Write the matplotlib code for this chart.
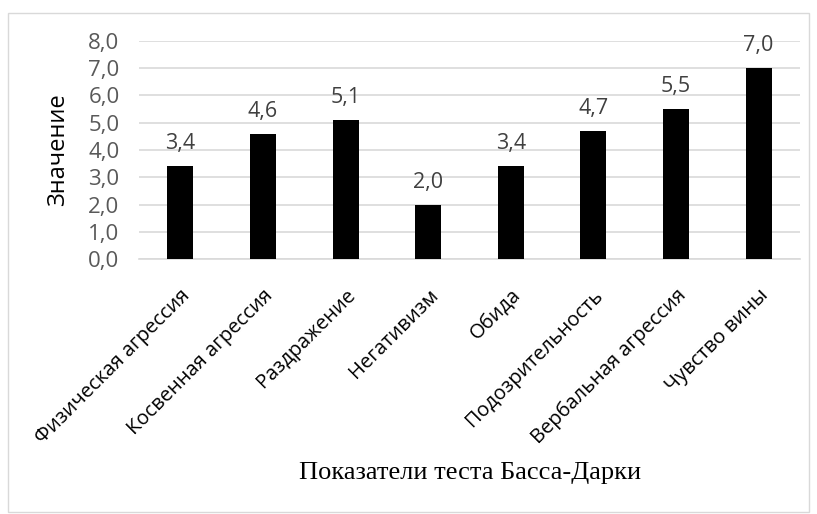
import matplotlib.pyplot as plt
from matplotlib.patches import Rectangle

categories = ["Физическая агрессия", "Косвенная агрессия", "Раздражение", "Негативизм",
              "Обида", "Подозрительность", "Вербальная агрессия", "Чувство вины"]
values = [3.4, 4.6, 5.1, 2.0, 3.4, 4.7, 5.5, 7.0]
yticks = [0, 1, 2, 3, 4, 5, 6, 7, 8]

plt.rcParams['font.family'] = ['Open Sans', 'DejaVu Sans']

fig = plt.figure(figsize=(8.17, 5.14), dpi=100)
ax = fig.add_axes([139 / 817, 1 - 259 / 514, (800 - 139) / 817, (259 - 41) / 514])

x = range(len(categories))
bars = ax.bar(x, values, width=0.315, color='black', zorder=3)

for xi, v in zip(x, values):
    ax.text(xi, v + 0.62, f"{v:.1f}".replace('.', ','), ha='center', va='baseline',
            fontsize=15.5, color='#404040')

ax.set_xlim(-0.5, len(categories) - 0.5)
ax.set_ylim(0, 8)
ax.set_yticks(yticks)
ax.set_yticklabels([f"{t:.1f}".replace('.', ',') for t in yticks], fontsize=16, color='#595959')
ax.set_xticks(list(x))
ax.set_xticklabels(categories, rotation=45, ha='right', rotation_mode='anchor',
                   fontsize=14.5, color='black')
ax.tick_params(axis='y', length=0, pad=14)
ax.tick_params(axis='x', length=0, pad=19)
ax.grid(axis='y', color='#d9d9d9', linewidth=1.2, zorder=0)
for s in ['top', 'right', 'left']:
    ax.spines[s].set_visible(False)
ax.spines['bottom'].set_color('#d9d9d9')
ax.spines['bottom'].set_linewidth(1.2)

fig.text(58 / 817, 1 - 150 / 514, "Значение", rotation=90, ha='center', va='center',
         fontsize=17, color='black')
fig.text(470 / 817, 1 - 473 / 514, "Показатели теста Басса-Дарки", ha='center', va='center',
         fontsize=19, color='black', family='Liberation Serif')

fig.patches.append(Rectangle((8 / 817, 2 / 514), 801 / 817, (1 - 13 / 514) - 2 / 514,
                             transform=fig.transFigure, fill=False,
                             edgecolor='#d9d9d9', linewidth=1))

fig.savefig('out.png', dpi=100)
